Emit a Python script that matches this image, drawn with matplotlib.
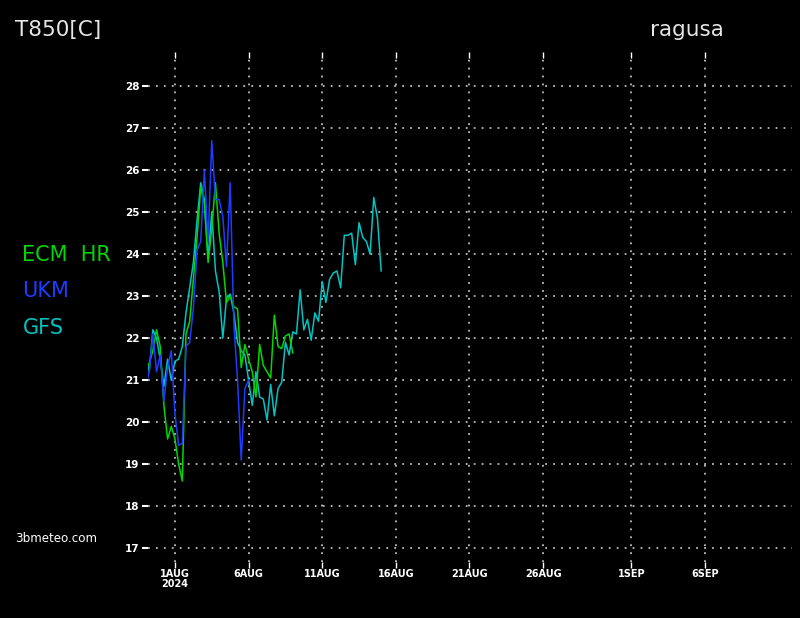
import pandas as pd
import numpy as np
import matplotlib
matplotlib.use('Agg')
import matplotlib.pyplot as plt

# 6-hourly runs starting 30 Jul 2024 00Z
start = '2024-07-30 00:00'

ecm_vals = [21.25, 21.4, 21.7, 22.2, 21.8, 20.4, 19.6, 19.9, 19.6, 19.0,
            18.6, 22.1, 22.4, 23.4, 24.4, 25.6, 25.2, 23.8, 24.6, 25.7,
            24.5, 23.8, 22.85, 23.0, 22.75, 22.7, 21.3, 21.85, 21.5, 21.2,
            20.6, 21.85, 21.35, 21.2, 21.05, 22.55, 21.8, 21.75, 22.05, 22.1,
            21.65]

ukm_vals = [20.8, 21.2, 22.1, 21.2, 21.6, 20.5, 21.3, 21.7, 20.2, 19.45,
            19.5, 21.8, 21.9, 22.7, 24.1, 24.3, 26.0, 24.3, 26.7, 25.3,
            25.3, 24.9, 23.7, 25.7, 22.35, 21.0, 19.1, 20.8, 21.0]

gfs_vals = [21.6, 21.2, 22.2, 22.0, 21.5, 20.85, 21.5, 21.0, 21.45, 21.5,
            21.8, 22.6, 23.2, 23.8, 24.8, 25.7, 25.3, 23.9, 25.0, 23.6,
            23.1, 22.0, 22.95, 23.05, 22.6, 21.9, 21.7, 21.6, 21.0, 20.4,
            21.2, 20.6, 20.55, 20.05, 20.9, 20.15, 20.8, 20.95, 21.9, 21.6,
            22.15, 22.1, 23.15, 22.2, 22.45, 21.95, 22.6, 22.4, 23.35, 22.85,
            23.4, 23.55, 23.6, 23.2, 24.45, 24.45, 24.5, 23.75, 24.75, 24.4,
            24.3, 24.0, 25.35, 24.85, 23.6]

tick_dates = ['2024-08-01', '2024-08-06', '2024-08-11', '2024-08-16',
              '2024-08-21', '2024-08-26', '2024-09-01', '2024-09-06']
tick_labels = ['1AUG\n2024', '6AUG', '11AUG', '16AUG', '21AUG', '26AUG', '1SEP', '6SEP']
y_ticks = list(range(17, 29))

series = [('GFS', gfs_vals, '#00c4c4'),
          ('ECM HR', ecm_vals, '#00d800'),
          ('UKM', ukm_vals, '#1e3cff')]

fig = plt.figure(figsize=(8, 6.18), dpi=100, facecolor='black')
ax = fig.add_axes([0.185, 0.0906, 0.805, 0.8155], facecolor='black')

for name, vals, col in series:
    t = pd.date_range(start, periods=len(vals), freq='6h')
    ax.plot(t, vals, color=col, lw=1.1, zorder=3)

t0 = pd.Timestamp('2024-08-01')
ax.set_xlim(t0 - pd.Timedelta(days=1.83), t0 + pd.Timedelta(days=41.9))
ax.set_ylim(16.67, 28.67)

ax.set_xticks(pd.to_datetime(tick_dates))
ax.set_xticklabels(tick_labels, fontsize=7, fontweight='bold', color='white',
                   linespacing=1.05)
ax.set_yticks(y_ticks)
ax.set_yticklabels([str(v) for v in y_ticks], fontsize=7.5, fontweight='bold', color='white')
ax.tick_params(axis='y', length=4, width=1.5, color='white', pad=2)
ax.tick_params(axis='x', length=4, width=1.0, color='white', pad=1, top=True)

ax.grid(True, color='#bdbdbd', linestyle=(0, (1, 3.4)), linewidth=1.3)
for s in ax.spines.values():
    s.set_visible(False)

fig.text(0.019, 0.952, 'T850[C]', color='#e6e6e6', fontsize=15.5, va='center', ha='left')
fig.text(0.812, 0.952, 'ragusa', color='#e6e6e6', fontsize=15.5, va='center', ha='left')

fig.text(0.028, 0.588, 'ECM  HR', color='#00d800', fontsize=15, va='center')
fig.text(0.028, 0.529, 'UKM', color='#1e3cff', fontsize=15, va='center')
fig.text(0.028, 0.470, 'GFS', color='#00c4c4', fontsize=15, va='center')

fig.text(0.019, 0.129, '3bmeteo.com', color='white', fontsize=8.6, va='center')

plt.savefig('out.png', dpi=100, facecolor='black')
